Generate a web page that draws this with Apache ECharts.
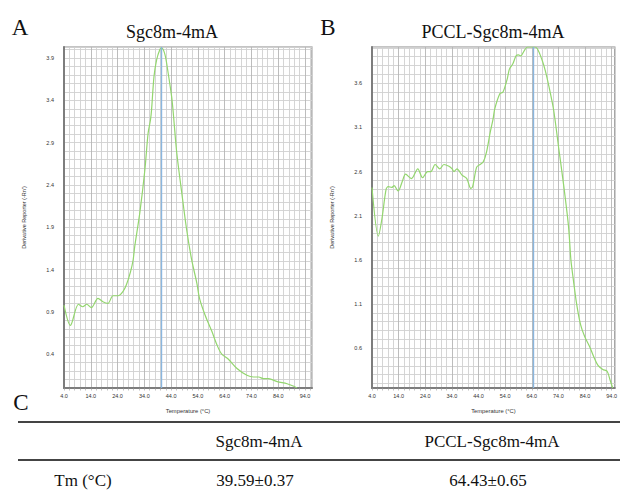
<!DOCTYPE html>
<html>
<head>
<meta charset="utf-8">
<script src="https://cdn.jsdelivr.net/npm/echarts@6/dist/echarts.min.js"></script>
<style>
html,body{margin:0;padding:0;background:#fff;}
#c{width:620px;height:490px;}
</style>
</head>
<body>
<div id="c"></div>
<script>
// ---- data ----
const titleA = 'Sgc8m-4mA';
const titleB = 'PCCL-Sgc8m-4mA';
const tempA = [4, 6.4, 9.4, 11, 12.5, 14.2, 16.7, 18.5, 20.4, 22.3, 24.2, 26, 27.3, 28.8, 29.8, 30.4, 32.3, 34.2, 35.4, 36.3, 36.7, 37.6, 38.6, 39.8, 40.4, 41.7, 42.9, 44.2, 44.8, 46.1, 48.0, 49.8, 51.7, 53.6, 54.6, 56.7, 59.2, 61.1, 62.9, 65.4, 68.6, 72.3, 74.8, 76.7, 78.5, 80.4, 83.6, 87.3, 89.8, 91.0];
const valA  = [0.98, 0.74, 0.99, 0.96, 0.99, 0.95, 1.06, 1.02, 1.00, 1.09, 1.09, 1.14, 1.22, 1.37, 1.51, 1.67, 2.07, 2.58, 3.01, 3.17, 3.29, 3.68, 3.88, 4.00, 4.02, 3.94, 3.72, 3.44, 3.25, 2.78, 2.30, 1.87, 1.51, 1.24, 1.06, 0.86, 0.67, 0.51, 0.40, 0.34, 0.23, 0.15, 0.13, 0.13, 0.11, 0.11, 0.075, 0.05, 0.02, 0.0];
const tempB = [4, 6.4, 7.7, 9.3, 10.1, 11.4, 12.3, 13.8, 15.4, 16.6, 18.8, 21.2, 23.0, 24.9, 26.1, 27.7, 29.5, 31.0, 32.9, 34.1, 34.8, 35.9, 37.8, 39.6, 41.1, 41.8, 43.3, 44.6, 45.8, 47.0, 48.3, 49.5, 50.1, 52.0, 53.2, 54.8, 55.6, 56.9, 58.1, 59.0, 59.9, 61.2, 62.4, 64.9, 66.1, 67.9, 69.1, 70.4, 72.2, 74.1, 76.0, 77.8, 78.7, 79.6, 80.8, 82.3, 83.9, 85.7, 87.2, 88.8, 90.7, 92.3, 93.4, 94.4];
const valB  = [2.42, 1.87, 2.06, 2.40, 2.43, 2.42, 2.44, 2.38, 2.49, 2.57, 2.52, 2.63, 2.53, 2.60, 2.60, 2.68, 2.63, 2.68, 2.66, 2.63, 2.60, 2.63, 2.56, 2.52, 2.41, 2.43, 2.65, 2.68, 2.71, 2.82, 3.03, 3.20, 3.31, 3.48, 3.50, 3.65, 3.76, 3.82, 3.91, 3.92, 3.91, 3.97, 4.01, 4.01, 3.99, 3.86, 3.74, 3.57, 3.30, 2.87, 2.44, 1.98, 1.60, 1.38, 1.11, 0.87, 0.73, 0.62, 0.51, 0.41, 0.36, 0.34, 0.24, 0.15];
const tmLineA = 40.4;
const tmLineB = 64.6;
const tableHeader = ['', 'Sgc8m-4mA', 'PCCL-Sgc8m-4mA'];
const tableRow = ['Tm (\u00B0C)', '39.59\u00B10.37', '64.43\u00B10.65'];
const xName = 'Temperature (\u00B0C)';
const yName = "Derivative Reporter (-Rn')";

// ---- chart ----
const chart = echarts.init(document.getElementById('c'), null, {renderer: 'svg'});
const serif = '"Liberation Serif","Times New Roman",serif';
const sans = '"Liberation Sans",Arial,sans-serif';
const gridCol = '#d0d0d0';
const axisCol = '#7d7d7d';

function xAxisCfg(idx, max) {
  return {
    type: 'value', gridIndex: idx, min: 4, max: max, interval: 2,
    name: xName, nameLocation: 'middle', nameGap: 20,
    nameTextStyle: {fontSize: 5.8, color: '#333', fontFamily: sans},
    axisLine: {show: true, lineStyle: {color: axisCol, width: 2}},
    axisTick: {show: true, length: 2.5, lineStyle: {color: '#999', width: 0.6}},
    axisLabel: {
      fontSize: 5.5, color: '#333', fontFamily: sans, margin: 5, showMaxLabel: false,
      formatter: v => Math.abs((v - 4) % 10) < 1e-6 ? v.toFixed(1) : ''
    },
    splitLine: {show: true, lineStyle: {color: ['#b5b5b5', gridCol, gridCol, gridCol, gridCol], width: 0.9}}
  };
}
function yAxisCfg(idx, min, max, rem, useInterval) {
  const c = {
    type: 'value', gridIndex: idx, min: min, max: max,
    name: yName, nameLocation: 'middle', nameGap: 37, nameRotate: 90,
    nameTextStyle: {fontSize: 5.5, color: '#333', fontFamily: sans},
    axisLine: {show: true, lineStyle: {color: axisCol, width: 2}},
    axisTick: {show: false},
    axisLabel: {
      fontSize: 5.5, color: '#333', fontFamily: sans, margin: 10,
      formatter: v => {
        const t = v * 10;
        if (Math.abs(t - Math.round(t)) > 1e-6) return '';
        return (Math.round(t) % 5 === rem) ? v.toFixed(1) : '';
      }
    },
    splitLine: {show: true, lineStyle: {color: gridCol, width: 0.9}}
  };
  if (useInterval) c.interval = 0.1; else c.splitNumber = 39;
  return c;
}
function lineSeries(idx, xs, ys, tm) {
  return {
    type: 'line', xAxisIndex: idx, yAxisIndex: idx,
    data: xs.map((x, i) => [x, ys[i]]),
    showSymbol: false, smooth: 0.3, clip: true,
    lineStyle: {color: '#93d66e', width: 1.2},
    markLine: {
      silent: true, symbol: 'none', label: {show: false},
      lineStyle: {color: '#8ab6de', type: 'solid', width: 1.4, opacity: 1},
      data: [{xAxis: tm}]
    },
    z: 3
  };
}

const graphics = [];
function txt(t, x, y, size, font) {
  graphics.push({type: 'text', silent: true, style: {
    text: t, x: x, y: y, fill: '#111', font: size + 'px ' + (font || serif),
    textAlign: 'center', textVerticalAlign: 'middle'
  }});
}
txt('A', 20, 27, 23);
txt('B', 328, 27, 23);
txt('C', 21, 402, 23);
txt(titleA, 172, 32, 18);
txt(titleB, 493, 32, 18);
graphics.push({type: 'line', silent: true, shape: {x1: 18, y1: 422, x2: 620, y2: 422}, style: {stroke: '#444', lineWidth: 2}});
graphics.push({type: 'line', silent: true, shape: {x1: 18, y1: 460, x2: 620, y2: 460}, style: {stroke: '#444', lineWidth: 2}});
const colX = [83, 259, 492];
tableHeader.forEach((t, i) => { if (t) txt(t, colX[i], 441, 17); });
tableRow.forEach((t, i) => txt(t, i === 0 ? colX[i] : colX[i] - 4, 480, 17));

chart.setOption({
  animation: false,
  backgroundColor: '#fff',
  grid: [
    {left: 64, top: 47, right: 308, bottom: 102, show: true, borderColor: '#8a8a8a', borderWidth: 1.2, backgroundColor: '#fff'},
    {left: 372, top: 47, right: 1, bottom: 102, show: true, borderColor: '#8a8a8a', borderWidth: 1.2, backgroundColor: '#fff'}
  ],
  xAxis: [xAxisCfg(0, 96.6), xAxisCfg(1, 95.2)],
  yAxis: [yAxisCfg(0, 0, 4.03, 4, true), yAxisCfg(1, 0.15, 4.01, 1, false)],
  series: [lineSeries(0, tempA, valA, tmLineA), lineSeries(1, tempB, valB, tmLineB)],
  graphic: graphics
});
</script>
</body>
</html>
